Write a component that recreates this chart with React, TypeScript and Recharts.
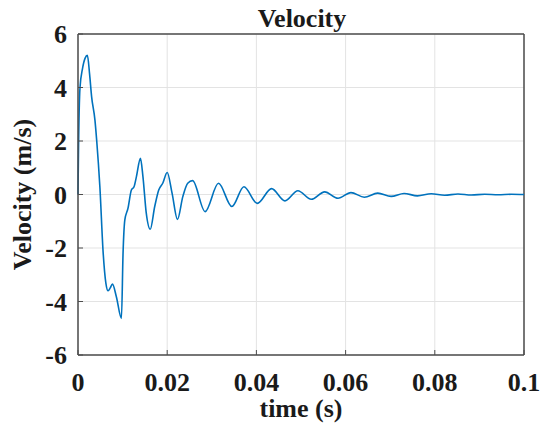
import { LineChart, Line, XAxis, YAxis, CartesianGrid, ReferenceLine } from 'recharts';

// time in ms
const timeMs = [
  0, 0.1, 0.45, 1.0, 1.6, 2.1, 2.6, 3.05, 3.8, 4.2, 4.9, 5.65, 6.24, 6.76, 7.2, 7.73,
  8.6, 9.74, 10.1, 10.5, 11.2, 11.97, 12.56, 13.1, 14.0, 14.56, 15.3, 16.2, 17.2, 18.1,
  19.0, 20.0, 21.1, 22.3, 23.5, 24.6, 25.7, 28.5, 31.5, 34.5, 37.2, 40.2, 43.4, 46.4,
  49.3, 52.3, 55.3, 58.3, 61.2, 64.2, 67.2, 70.2, 73.1, 76.1, 79.2, 82.2, 85.2, 88.2,
  91.2, 94.2, 97.2, 100,
];
const velocity = [
  0, 1.5, 4.0, 4.7, 5.1, 5.2, 4.5, 3.66, 2.78, 2.0, 0.3, -2.2, -3.3, -3.6, -3.5, -3.35,
  -3.82, -4.63, -2.2, -0.95, -0.52, 0.17, 0.29, 0.67, 1.35, 0.67, -0.69, -1.3, -0.45, 0.17,
  0.42, 0.82, 0.04, -0.93, -0.08, 0.42, 0.52, -0.64, 0.42, -0.45, 0.29, -0.33, 0.22, -0.24,
  0.14, -0.18, 0.1, -0.14, 0.07, -0.1, 0.05, -0.07, 0.04, -0.05, 0.03, -0.03, 0.02, -0.02,
  0.01, -0.01, 0.01, 0,
];
const xTicks = [0, 0.02, 0.04, 0.06, 0.08, 0.1];
const yTicks = [-6, -4, -2, 0, 2, 4, 6];

const data = timeMs.map((t, i) => ({ t: t / 1000, v: velocity[i] }));

const font = { fontFamily: '"Liberation Serif", "Times New Roman", serif', fontWeight: 700, fontSize: 26, fill: '#1a1a1a' };
const axisColor = '#4d4d4d';

export default function App() {
  return (
    <div style={{ position: 'fixed', left: 0, top: 0, width: 545, height: 434, background: '#fff' }}>
      <LineChart width={545} height={434} data={data} margin={{ top: 34, right: 21, left: 0, bottom: 0 }}>
        <CartesianGrid stroke="#e3e3e3" />
        <XAxis
          dataKey="t"
          type="number"
          domain={[0, 0.1]}
          ticks={xTicks}
          tickFormatter={v => String(v)}
          height={79}
          tick={font}
          tickSize={-5}
          tickMargin={23}
          tickLine={{ stroke: axisColor }}
          axisLine={{ stroke: axisColor, strokeWidth: 1.5 }}
          label={{ value: 'time (s)', position: 'insideBottom', offset: 17, style: { ...font, textAnchor: 'middle' } }}
        />
        <YAxis
          type="number"
          domain={[-6, 6]}
          ticks={yTicks}
          width={78}
          tick={font}
          tickSize={-5}
          tickMargin={16}
          tickLine={{ stroke: axisColor }}
          axisLine={{ stroke: axisColor, strokeWidth: 1.5 }}
          label={{ value: 'Velocity (m/s)', angle: -90, position: 'insideLeft', offset: 22, style: { ...font, textAnchor: 'middle' } }}
        />
        <ReferenceLine y={6} stroke={axisColor} strokeWidth={1.5} />
        <ReferenceLine x={0.1} stroke={axisColor} strokeWidth={1.5} />
        <Line type="monotone" dataKey="v" stroke="#0072BD" strokeWidth={1.6} dot={false} isAnimationActive={false} />
      </LineChart>
      <svg width={545} height={40} style={{ position: 'absolute', left: 0, top: 0, pointerEvents: 'none' }}>
        <text x={302} y={27} textAnchor="middle" style={font}>Velocity</text>
      </svg>
    </div>
  );
}
